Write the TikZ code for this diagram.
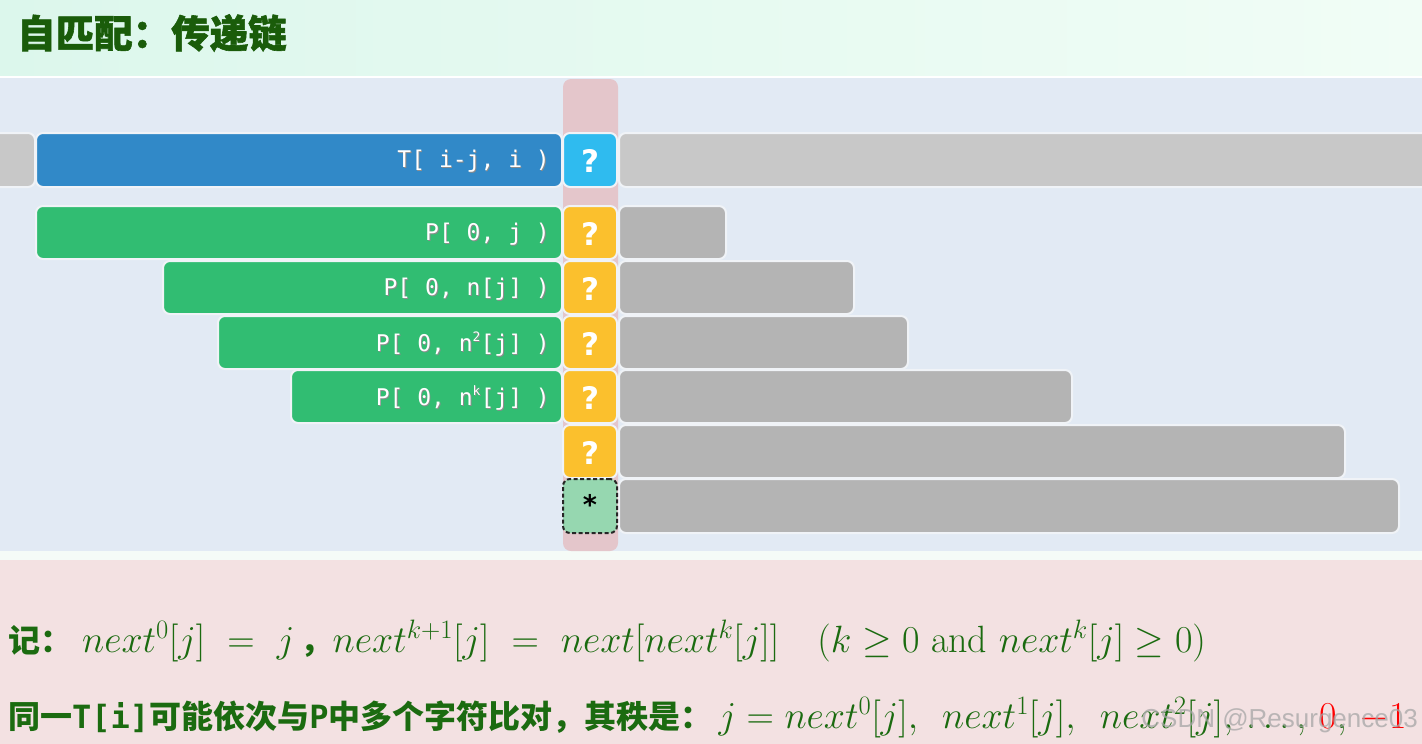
\RequirePackage{fix-cm}
\documentclass[tikz,border=0pt]{standalone}
\usepackage{amsmath}
\usepackage{fontspec}
\usetikzlibrary{calc}
\newfontfamily\cjk{Noto Sans CJK SC}
\newfontfamily\cjkt{Noto Sans CJK SC}[BoldFeatures={FakeBold=1.5}]
\newfontfamily\mono{DejaVu Sans Mono}
\newfontfamily\qfont{DejaVu Sans}
\newfontfamily\wmfont{Liberation Sans}
\definecolor{hdrL}{HTML}{DCF7EC}
\definecolor{hdrR}{HTML}{F1FDF6}
\definecolor{panel}{HTML}{E2EAF4}
\definecolor{gapc}{HTML}{F5FBF7}
\definecolor{bottombg}{HTML}{F3E1E2}
\definecolor{colpink}{HTML}{E4C6CB}
\definecolor{tblue}{HTML}{3189C8}
\definecolor{qcyan}{HTML}{2FBBEF}
\definecolor{pgreen}{HTML}{31BD72}
\definecolor{qyellow}{HTML}{FBC02D}
\definecolor{grayA}{HTML}{C8C8C8}
\definecolor{grayB}{HTML}{B4B4B4}
\definecolor{lgreen}{HTML}{96D7B0}
\definecolor{boxedge}{HTML}{F0F3F7}
\definecolor{txtg}{HTML}{1B6B10}
\definecolor{titlec}{HTML}{1A5C0A}
\newcommand\bx[6]{\node[box, fill=#6, minimum width={(#4-#2)*1pt}, minimum height={(#5-#3)*1pt}] (#1) at ({(#2+#4)/2},{(#3+#5)/2}) {};}
\newcommand\barlabel[3]{%
  \node[lbl, text=black!45, anchor=east] (#1s) at ($(#2)+(0.9,0.9)$) {#3};
  \node[lbl, anchor=east] (#1) at (#2) {#3};}
\begin{document}
\begin{tikzpicture}[x=1pt,y=-1pt,
  box/.style={draw=boxedge, line width=2pt, rounded corners=7pt, inner sep=0pt, outer sep=0pt},
  lbl/.style={text=white, font=\mono\fontsize{23}{23}\selectfont, inner sep=0pt},
  qmark/.style={text=white, font=\qfont\bfseries\fontsize{31}{31}\selectfont, inner sep=0pt}]
\useasboundingbox (0,0) rectangle (1422,744);
\fill[white] (0,0) rectangle (1422,744);
\shade[left color=hdrL, right color=hdrR] (0,0) rectangle (1422,75);
\fill[panel] (0,78) rectangle (1422,551);
\fill[gapc] (0,551) rectangle (1422,560);
\fill[bottombg] (0,560) rectangle (1422,744);
\node[anchor=west, text=titlec, font=\cjkt\bfseries\fontsize{38.5}{38.5}\selectfont, inner sep=0pt] (title) at (17,33) {自匹配：传递链};
% highlight column
\fill[colpink, rounded corners=8pt] (563,79) rectangle (618,551);
% row 1
\bx{tl}{-20}{133}{35}{187}{grayA}
\bx{tb}{36}{133}{562}{187}{tblue}
\bx{q1}{563}{133}{617}{187}{qcyan}
\bx{tr}{619}{133}{1440}{187}{grayA}
% rows 2-7
\bx{p1}{36}{206}{562}{259}{pgreen}
\bx{q2}{563}{206}{617}{259}{qyellow}
\bx{g2}{619}{206}{726}{259}{grayB}
\bx{p2}{163}{261}{562}{314}{pgreen}
\bx{q3}{563}{261}{617}{314}{qyellow}
\bx{g3}{619}{261}{854}{314}{grayB}
\bx{p3}{218}{316}{562}{369}{pgreen}
\bx{q4}{563}{316}{617}{369}{qyellow}
\bx{g4}{619}{316}{908}{369}{grayB}
\bx{p4}{291}{370}{562}{423}{pgreen}
\bx{q5}{563}{370}{617}{423}{qyellow}
\bx{g5}{619}{370}{1072}{423}{grayB}
\bx{q6}{563}{425}{617}{478}{qyellow}
\bx{g6}{619}{425}{1345}{478}{grayB}
\bx{g7}{619}{479}{1399}{533}{grayB}
\node[box, draw=black!85, dashed, dash pattern=on 4pt off 2.5pt, line width=2pt, fill=lgreen, minimum width=54pt, minimum height=54pt] (st) at (590,506) {};
\node[font=\qfont\bfseries\fontsize{27}{27}\selectfont, inner sep=0pt] (star) at ($(st.center)+(0,-2)$) {*};
% labels
\coordinate (c1) at (550,161);
\coordinate (c2) at (550,234);
\coordinate (c3) at (550,289);
\coordinate (c4) at (550,344);
\coordinate (c5) at (550,398);
\barlabel{t1}{c1}{T[ i-j, i )}
\barlabel{t2}{c2}{P[ 0, j )}
\barlabel{t3}{c3}{P[ 0, n[j] )}
\barlabel{t4}{c4}{P[ 0, n\raisebox{0.42em}{\fontsize{13}{13}\selectfont 2}[j] )}
\barlabel{t5}{c5}{P[ 0, n\raisebox{0.42em}{\fontsize{13}{13}\selectfont k}[j] )}
% question marks
\foreach \q in {q1,q2,q3,q4,q5,q6}{
  \node[qmark] at ($(\q.center)+(0,1)$) {?};
}
% bottom text
\node[anchor=base west, text=txtg, inner sep=0pt] (l1) at (8,652) {{\cjk\bfseries\fontsize{32}{32}\selectfont 记：}\hspace{10pt}\fontsize{38}{38}\selectfont$next^0[j]\ =\ j$\,{\cjk\bfseries\fontsize{32}{32}\selectfont ，}$next^{k+1}[j]\ =\ next[next^k[j]]\quad(k\geq0 \text{ and } next^k[j]\geq 0)$};
\node[anchor=base west, text=txtg, inner sep=0pt] (l2) at (8,728) {\fontsize{32}{32}\selectfont{\cjk\bfseries 同一}{\mono\bfseries T[i]}{\cjk\bfseries 可能依次与}{\mono\bfseries P}{\cjk\bfseries 中多个字符比对，其秩是：}\hspace{6pt}\fontsize{38}{38}\selectfont$j = next^0[j],\ \,next^1[j],\ \,next^2[j],\, \ldots,\, {\color{red}0},\, {\color{red}-1}$};
\node[anchor=base east, text=gray!70, opacity=0.75, font=\wmfont\fontsize{26}{26}\selectfont, inner sep=0pt] (wm) at (1418,727) {CSDN @Resurgence03};
\end{tikzpicture}
\end{document}
